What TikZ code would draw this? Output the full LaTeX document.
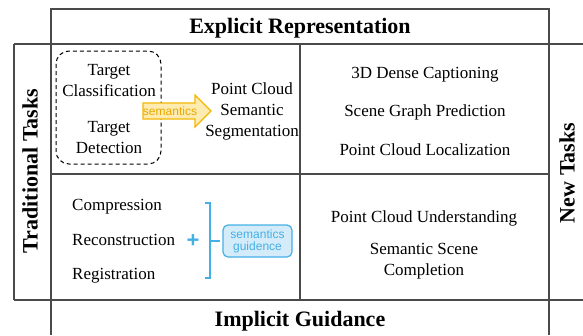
\documentclass[tikz,border=0pt]{standalone}
\usepackage{fontspec}
\setmainfont{Liberation Serif}
\newfontfamily\labelsans{Liberation Sans}
\usetikzlibrary{positioning}
\definecolor{gridline}{HTML}{4A4A4A}
\definecolor{semborder}{HTML}{F2B705}
\definecolor{semfill}{HTML}{FDEBB0}
\definecolor{semtext}{HTML}{E9A800}
\definecolor{guideblue}{HTML}{45B0E5}
\definecolor{guidefill}{HTML}{D4EBF9}
\tikzset{
  frame/.style={draw=gridline, line width=1.1pt},
  heading/.style={font=\fontsize{22}{24}\selectfont\bfseries, inner sep=0pt},
  task/.style={font=\fontsize{17}{21}\selectfont, align=center, inner sep=0pt},
  tasklist/.style={font=\fontsize{17}{21}\selectfont, anchor=west, inner sep=0pt},
}
\begin{document}
\begin{tikzpicture}[x=1pt, y=-1pt]
\useasboundingbox (0,0) rectangle (583,335);
% grid of cells
\draw[frame] (51,335) -- (51,9) -- (549,9) -- (549,335);
\draw[frame] (14,44) -- (583,44);
\draw[frame] (14,300) -- (583,300);
\draw[frame] (14,44) -- (14,300);
\draw[frame] (300,44) -- (300,300);
\draw[frame] (51,174) -- (549,174);
% headings
\node[heading] (explicit) at (300,28) {Explicit Representation};
\node[heading] (implicit) at (300,321) {Implicit Guidance};
\node[heading, rotate=90] (traditional) at (30,171) {Traditional Tasks};
\node[heading, rotate=90] (newtasks) at (567,173) {New Tasks};
% upper-left cell
\draw[line width=1pt, dash pattern=on 4pt off 3pt, rounded corners=13pt] (56,51) rectangle (161,164);
\node[task] (classif) at (109,81) {Target\\Classification};
\node[task] (detect) at (109,138) {Target\\Detection};
\draw[draw=semborder, fill=semfill, line width=1.2pt, line join=miter]
  (143,103) -- (195,103) -- (195,95) -- (211,111) -- (195,127) -- (195,119) -- (143,119) -- cycle;
\node[font=\labelsans\fontsize{12}{13}\selectfont, text=semtext, inner sep=0pt] (semantics) at (170,111) {semantics};
\node[task] (segment) at (252,111) {Point Cloud\\Semantic\\Segmentation};
% upper-right cell
\node[task] (caption) at (425,75) {3D Dense Captioning};
\node[task] (scenegraph) at (425,112) {Scene Graph Prediction};
\node[task] (localize) at (425,150) {Point Cloud Localization};
% lower-left cell
\node[tasklist] (compress) at (72,207) {Compression};
\node[tasklist] (reconstruct) at (72,240) {Reconstruction};
\node[tasklist] (register) at (72,276) {Registration};
\node[font=\labelsans\bfseries\fontsize{22}{22}\selectfont, text=guideblue, inner sep=0pt] (plus) at (193,241) {+};
\draw[guideblue, line width=1.4pt] (205,203) -- (210,203) -- (210,278) -- (205,278);
\draw[guideblue, line width=1.4pt] (210,241) -- (220,241);
\node[draw=guideblue, fill=guidefill, line width=1.2pt, rounded corners=5pt,
      minimum width=69pt, minimum height=32pt, inner sep=0pt, align=center,
      text=guideblue, font=\labelsans\fontsize{12}{12}\selectfont] (guidance) at (257.5,241) {semantics\\guidence};
% lower-right cell
\node[task] (understand) at (424,218) {Point Cloud Understanding};
\node[task] (completion) at (424,261) {Semantic Scene\\Completion};
\end{tikzpicture}
\end{document}
